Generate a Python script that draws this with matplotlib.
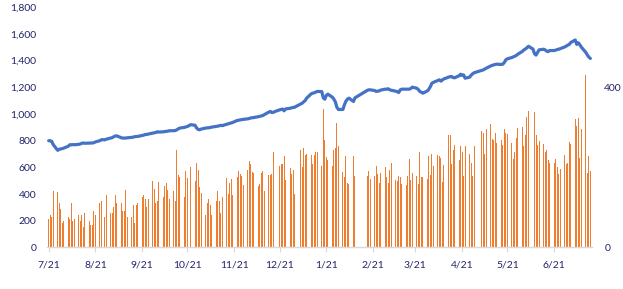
import matplotlib
matplotlib.use("Agg")
import matplotlib.pyplot as plt
import matplotlib.dates as mdates
import pandas as pd

# trading days: weekdays from 7/21/2020 to 7/15/2021, minus market holidays
start_date = '2020-07-21'
end_date = '2021-07-15'
holidays = ['2021-01-01', '2021-02-10', '2021-02-11', '2021-02-12',
            '2021-02-15', '2021-02-16', '2021-04-30', '2021-05-03']

# daily volume (right axis), week by week
volume = [
    70, 82, 77, 142,
    139, 110, 95, 60, 65,
    77, 70, 110, 65, 70,
    82, 65, 82, 50, 85,
    65, 55, 57, 92, 80,
    112, 117, 95, 75, 130,
    87, 85, 100, 132, 110,
    112, 90, 90, 144, 75,
    75, 107, 60, 105, 112,
    125, 132, 122, 102, 122,
    167, 147, 112, 115, 164,
    127, 154, 162, 144, 122,
    142, 115, 242, 182, 177,
    127, 192, 174, 157, 202,
    167, 212, 194, 152, 137,
    82, 112, 122, 107, 80,
    115, 142, 117, 87, 127,
    174, 134, 162, 172, 130,
    177, 192, 184, 179, 157,
    194, 217, 209, 189, 187,
    154, 159, 187, 192, 142,
    182, 182, 184, 237, 202,
    204, 209, 209, 229, 169,
    199, 184, 194, 134,
    242, 202, 247, 232, 234,
    232, 209, 232, 237, 237,
    204, 346, 269, 227, 219,
    204, 242, 249, 311, 254,
    189, 177, 229, 162, 159,
    229, 179,
    179, 192, 172,
    179, 204, 184, 162, 187,
    202, 177, 162, 194, 212,
    169, 167, 179, 177, 159,
    157, 179, 222, 169, 187,
    179, 159, 237, 177, 177,
    172, 229, 182, 234, 204,
    232, 229, 224, 164, 207,
    281, 281, 209, 244, 256,
    219, 254, 239, 179, 254,
    234, 212, 179, 254,
    291, 286, 234, 296,
    309, 271, 269, 286, 261,
    269, 256, 296, 286, 284,
    261, 222, 239, 274, 299,
    301, 254, 281, 326, 341,
    311, 339, 281, 256, 266,
    259, 239, 244, 219, 212,
    212, 222, 202, 184, 197,
    232, 209, 212, 264, 259,
    321, 304, 324, 224, 295,
    431, 187, 229, 192,
]

# daily close (left axis)
close = [
    799, 799, 795, 770,
    727, 735, 738, 740, 744,
    758, 769, 769, 770, 769,
    772, 775, 780, 782, 780,
    782, 782, 782, 785, 790,
    800, 807, 807, 805, 810,
    819, 822, 828, 834, 836,
    822, 819, 819, 819, 821,
    824, 826, 829, 831, 831,
    838, 841, 846, 846, 849,
    856, 858, 861, 866, 864,
    866, 868, 869, 871, 874,
    874, 876, 881, 889, 894,
    899, 903, 906, 912, 919,
    915, 895, 884, 881, 886,
    894, 895, 896, 898, 901,
    906, 908, 911, 914, 912,
    922, 926, 929, 932, 936,
    951, 953, 955, 957, 959,
    963, 966, 970, 971, 973,
    979, 982, 985, 988, 995,
    1014, 1018, 1010, 1012, 1018,
    1030, 1033, 1036, 1023, 1037,
    1042, 1045, 1048, 1050,
    1074, 1080, 1090, 1100, 1118,
    1150, 1155, 1158, 1163, 1168,
    1167, 1120, 1110, 1138, 1148,
    1125, 1110, 1090, 1050, 1033,
    1033, 1068, 1095, 1110, 1118,
    1093, 1120,
    1175, 1180, 1180,
    1175, 1168, 1170, 1172, 1178,
    1185, 1185, 1188, 1181, 1177,
    1170, 1166, 1160, 1180, 1185,
    1185, 1185, 1185, 1190, 1200,
    1192, 1182, 1168, 1162, 1155,
    1172, 1185, 1205, 1230, 1236,
    1250, 1255, 1245, 1255, 1262,
    1275, 1278, 1280, 1272, 1270,
    1285, 1297, 1288, 1292, 1267,
    1275, 1290, 1300, 1308,
    1325, 1329, 1335, 1342,
    1359, 1363, 1367, 1370, 1372,
    1370, 1372, 1385, 1405, 1412,
    1422, 1427, 1432, 1438, 1447,
    1468, 1479, 1486, 1495, 1506,
    1485, 1450, 1440, 1460, 1479,
    1484, 1479, 1470, 1466, 1474,
    1474, 1477, 1481, 1484, 1488,
    1501, 1507, 1514, 1520, 1534,
    1553, 1520, 1532, 1518, 1500,
    1460, 1441, 1425, 1415,
]

tick_labels = ['7/21', '8/21', '9/21', '10/21', '11/21', '12/21',
               '1/21', '2/21', '3/21', '4/21', '5/21', '6/21']

days = pd.bdate_range(start_date, end_date)
days = days[~days.isin(pd.to_datetime(holidays))]
x = mdates.date2num(days.to_pydatetime())

tick_dates = pd.date_range(start_date, periods=len(tick_labels),
                           freq=pd.DateOffset(months=1))
tick_x = mdates.date2num(tick_dates.to_pydatetime())

text_color = '#23236b'
plt.rcParams['font.family'] = ['Lato', 'DejaVu Sans']

fig = plt.figure(figsize=(6.23, 2.89), dpi=100)
ax = fig.add_axes([0.0762, 0.1436, 0.8738, 0.8322])
ax2 = ax.twinx()

ax2.bar(x, volume, width=0.65, color='#ED7D31', linewidth=0)
ax.plot(x, close, color='#4472C4', linewidth=2.3, solid_capstyle='round')

ax.set_zorder(ax2.get_zorder() + 1)
ax.patch.set_visible(False)

ax.set_ylim(0, 1800)
ax.set_yticks(range(0, 1801, 200))
ax.set_yticklabels([f'{v:,}' for v in range(0, 1801, 200)])
ax2.set_ylim(0, 600)
ax2.set_yticks([0, 400])

ax.set_xlim(x[0] - 0.8, x[-1] + 1.0)
ax.set_xticks(tick_x)
ax.set_xticklabels(tick_labels)

for a in (ax, ax2):
    for s in a.spines.values():
        s.set_visible(False)
ax.spines['bottom'].set_visible(True)
ax.spines['bottom'].set_color('#D9D9D9')
ax.spines['bottom'].set_linewidth(1.0)

ax.tick_params(axis='y', length=0, pad=8, labelsize=7.5, labelcolor=text_color)
ax2.tick_params(axis='y', length=0, pad=9, labelsize=7.5, labelcolor=text_color)
ax.tick_params(axis='x', length=3.5, width=0.8, color='#D9D9D9', pad=6,
               labelsize=7.5, labelcolor=text_color)

fig.savefig('out.png', dpi=100)
